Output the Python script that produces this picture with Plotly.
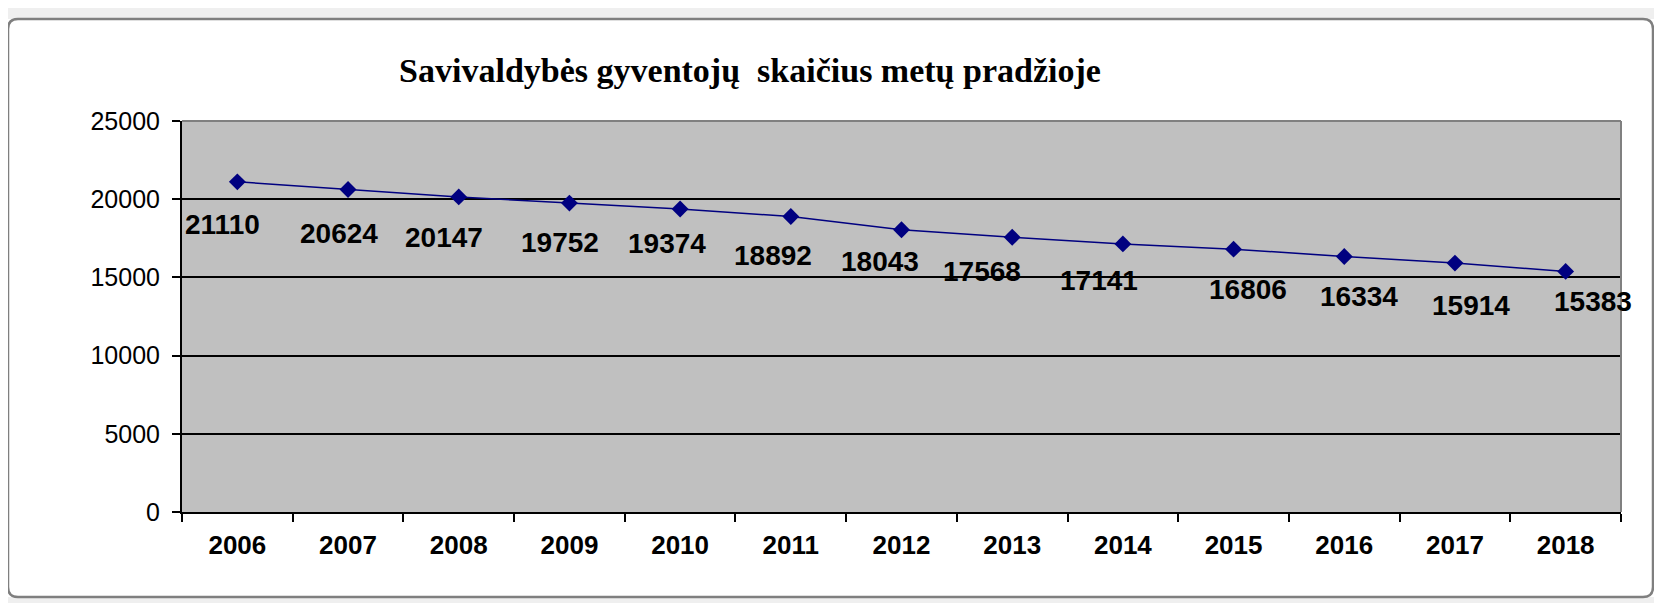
import plotly.graph_objects as go

# data
years = ["2006", "2007", "2008", "2009", "2010", "2011", "2012",
         "2013", "2014", "2015", "2016", "2017", "2018"]
population = [21110, 20624, 20147, 19752, 19374, 18892, 18043,
              17568, 17141, 16806, 16334, 15914, 15383]

# manual label nudges (px) like the hand-placed Excel labels
label_dx = [-15, -9, -15, -9, -13, -18, -22, -30, -24, 14, 15, 16, 27]
label_dy = [43, 44, 41, 39, 35, 39, 32, 34, 37, 40, 40, 42, 30]

W, H = 1662, 603
OFF = 8  # page body margin
# plot area in screenshot pixels
PX0, PX1, PY0, PY1 = 182, 1621, 121, 512
L, T = PX0 - OFF, PY0 - OFF
R, B = W - (PX1 - OFF), H - (PY1 - OFF)
pw, ph = PX1 - PX0, PY1 - PY0


def px(x):  # screenshot pixel -> paper x
    return (x - PX0) / pw


def py(y):  # screenshot pixel -> paper y
    return (PY1 - y) / ph


fig = go.Figure()
fig.add_trace(go.Scatter(
    x=years, y=population, mode="lines+markers",
    line=dict(color="#000080", width=1.5),
    marker=dict(symbol="diamond", size=13, color="#000080"),
    hoverinfo="x+y", showlegend=False,
))

# category axis: annotations placed by category index (year strings would read as numbers)
for i, (v, dx, dy) in enumerate(zip(population, label_dx, label_dy)):
    fig.add_annotation(x=i, y=v, xref="x", yref="y", text=str(v), showarrow=False,
                       xshift=dx, yshift=-dy,
                       font=dict(family="Arial, Liberation Sans", size=28, color="black", weight="bold"))

# light grey strips outside the chart frame
for a, b, c, d in [(0, 0, W + OFF, 19), (0, 0, 8, H + OFF), (1654, 0, W + OFF, H + OFF), (0, 597, W + OFF, H + OFF)]:
    fig.add_shape(type="rect", xref="paper", yref="paper", layer="below",
                  x0=px(a), x1=px(c), y0=py(b), y1=py(d),
                  fillcolor="#efefef", line=dict(width=0))

# outer chart frame with rounded corners
x0, x1, y0, y1, r = 8, 1653, 19, 597, 10
path = (f"M {px(x0 + r)} {py(y0)} L {px(x1 - r)} {py(y0)} Q {px(x1)} {py(y0)} {px(x1)} {py(y0 + r)} "
        f"L {px(x1)} {py(y1 - r)} Q {px(x1)} {py(y1)} {px(x1 - r)} {py(y1)} "
        f"L {px(x0 + r)} {py(y1)} Q {px(x0)} {py(y1)} {px(x0)} {py(y1 - r)} "
        f"L {px(x0)} {py(y0 + r)} Q {px(x0)} {py(y0)} {px(x0 + r)} {py(y0)} Z")
fig.add_shape(type="path", path=path, xref="paper", yref="paper", layer="below",
              line=dict(color="#7f7f7f", width=2.5))

# grey plot border at top and right
fig.add_shape(type="line", xref="paper", yref="paper", x0=0, x1=1, y0=1, y1=1,
              line=dict(color="#808080", width=2), layer="above")
fig.add_shape(type="line", xref="paper", yref="paper", x0=1, x1=1, y0=0, y1=1,
              line=dict(color="#808080", width=2), layer="above")

fig.update_layout(
    width=W, height=H,
    margin=dict(l=L, r=R, t=T, b=B),
    paper_bgcolor="white",
    plot_bgcolor="#c0c0c0",
    title=dict(text="Savivaldybės gyventojų  skaičius metų pradžioje",
               x=(750 - OFF) / W, xanchor="center", y=1 - (70 - OFF) / H, yanchor="middle",
               xref="container", yref="container",
               font=dict(family="Times New Roman, Liberation Serif", size=34, color="black", weight="bold")),
)
fig.update_xaxes(
    type="category", range=[-0.5, 12.5], tickson="boundaries",
    ticks="outside", ticklen=8, tickwidth=1.5, tickcolor="black",
    showline=True, linecolor="black", linewidth=2, showgrid=False,
    ticklabelstandoff=9,
    tickfont=dict(family="Arial, Liberation Sans", size=26, color="black", weight="bold"),
)
fig.update_yaxes(
    range=[0, 25000], dtick=5000, tickformat="d",
    ticks="outside", ticklen=8, tickwidth=1.5, tickcolor="black",
    showline=True, linecolor="black", linewidth=2,
    showgrid=True, gridcolor="black", gridwidth=1.5, zeroline=False,
    ticklabelstandoff=7,
    tickfont=dict(family="Arial, Liberation Sans", size=25, color="black"),
)

fig.write_html("out.html")
